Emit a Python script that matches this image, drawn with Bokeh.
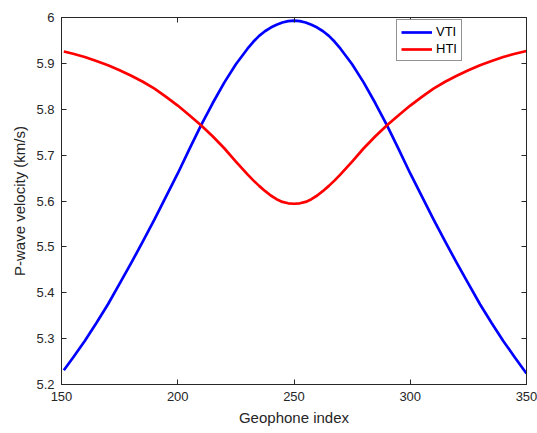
from bokeh.plotting import figure
from bokeh.models import (Range1d, LinearAxis, FixedTicker, CustomJSTickFormatter,
                          Legend, LegendItem)
from bokeh.embed import file_html
from bokeh.resources import INLINE

# ---- data ----
geophone = [151, 155, 160, 165, 170, 175, 180, 185, 190, 195, 200, 205, 210, 215,
            220, 225, 230, 232.5, 235, 237.5, 240, 242.5, 245, 247.5, 250,
            252.5, 255, 257.5, 260, 262.5, 265, 267.5, 270, 275, 280, 285,
            290, 295, 300, 305, 310, 315, 320, 325, 330, 335, 340, 345, 350]
vti = [5.231, 5.259, 5.295, 5.334, 5.375, 5.420, 5.465, 5.512, 5.560, 5.610,
       5.660, 5.713, 5.765, 5.813, 5.858, 5.898, 5.932, 5.947, 5.960, 5.970,
       5.978, 5.984, 5.989, 5.992, 5.993,
       5.992, 5.989, 5.984, 5.978, 5.970, 5.960, 5.947, 5.932, 5.898, 5.858,
       5.813, 5.765, 5.713, 5.660, 5.610, 5.560, 5.512, 5.465, 5.420, 5.375,
       5.334, 5.295, 5.259, 5.224]
hti = [5.926, 5.921, 5.914, 5.905, 5.896, 5.885, 5.873, 5.860, 5.845, 5.827,
       5.808, 5.787, 5.765, 5.741, 5.715, 5.686, 5.658, 5.645, 5.633, 5.622,
       5.612, 5.604, 5.598, 5.595, 5.594,
       5.595, 5.598, 5.604, 5.612, 5.622, 5.633, 5.645, 5.658, 5.686, 5.715,
       5.741, 5.765, 5.787, 5.808, 5.827, 5.845, 5.860, 5.873, 5.885, 5.896,
       5.905, 5.914, 5.921, 5.927]
x_ticks = [150, 200, 250, 300, 350]
y_ticks = [5.2, 5.3, 5.4, 5.5, 5.6, 5.7, 5.8, 5.9, 6.0]
series_names = ["VTI", "HTI"]

AX = "#262626"
FONT = "Liberation Sans"

p = figure(width=537, height=433, x_range=Range1d(150, 350), y_range=Range1d(5.2, 6.0),
           output_backend="svg", toolbar_location=None,
           min_border_left=61, min_border_right=11, min_border_top=17, min_border_bottom=49)
p.background_fill_color = "white"
p.border_fill_color = "white"
p.outline_line_color = AX
p.outline_line_width = 1
p.xgrid.visible = False
p.ygrid.visible = False

fmt = CustomJSTickFormatter(code="return (Math.round(tick*10)/10).toString();")

def style_axis(ax, ticks, labels=True):
    ax.ticker = FixedTicker(ticks=ticks)
    ax.formatter = fmt
    ax.axis_line_color = AX
    ax.axis_line_width = 1
    ax.major_tick_line_color = AX
    ax.major_tick_in = 5
    ax.major_tick_out = 0
    ax.minor_tick_line_color = None
    ax.major_label_text_font = FONT
    if labels:
        ax.major_label_text_color = AX
        ax.major_label_text_font_size = "13px"
        ax.major_label_standoff = 7
        ax.axis_label_text_font = FONT
        ax.axis_label_text_font_size = "15px"
        ax.axis_label_text_font_style = "normal"
        ax.axis_label_text_color = AX
        ax.axis_label_standoff = 5
    else:
        # tick marks only: labels are not drawn
        ax.major_label_text_color = None
        ax.major_label_text_font_size = "1px"
        ax.major_label_standoff = 0

style_axis(p.xaxis[0], x_ticks)
style_axis(p.yaxis[0], y_ticks)
p.xaxis[0].axis_label = "Geophone index"
p.yaxis[0].axis_label = "P-wave velocity (km/s)"

top = LinearAxis()
style_axis(top, x_ticks, labels=False)
p.add_layout(top, "above")
right = LinearAxis()
style_axis(right, y_ticks, labels=False)
p.add_layout(right, "right")

r_vti = p.line(geophone, vti, line_color="#0000FF", line_width=2.7, line_join="round")
r_hti = p.line(geophone, hti, line_color="#FF0000", line_width=2.7, line_join="round")

legend = Legend(items=[LegendItem(label=series_names[0], renderers=[r_vti]),
                       LegendItem(label=series_names[1], renderers=[r_hti])],
                location=(335, 323), margin=0, padding=4, spacing=2,
                glyph_width=31, glyph_height=14, label_height=14, label_standoff=4,
                label_text_font=FONT, label_text_font_size="13px",
                label_text_color="#000000",
                border_line_color=AX, border_line_width=1,
                background_fill_color="white", background_fill_alpha=1)
p.add_layout(legend)

open("out.html", "w").write(file_html(p, INLINE))
